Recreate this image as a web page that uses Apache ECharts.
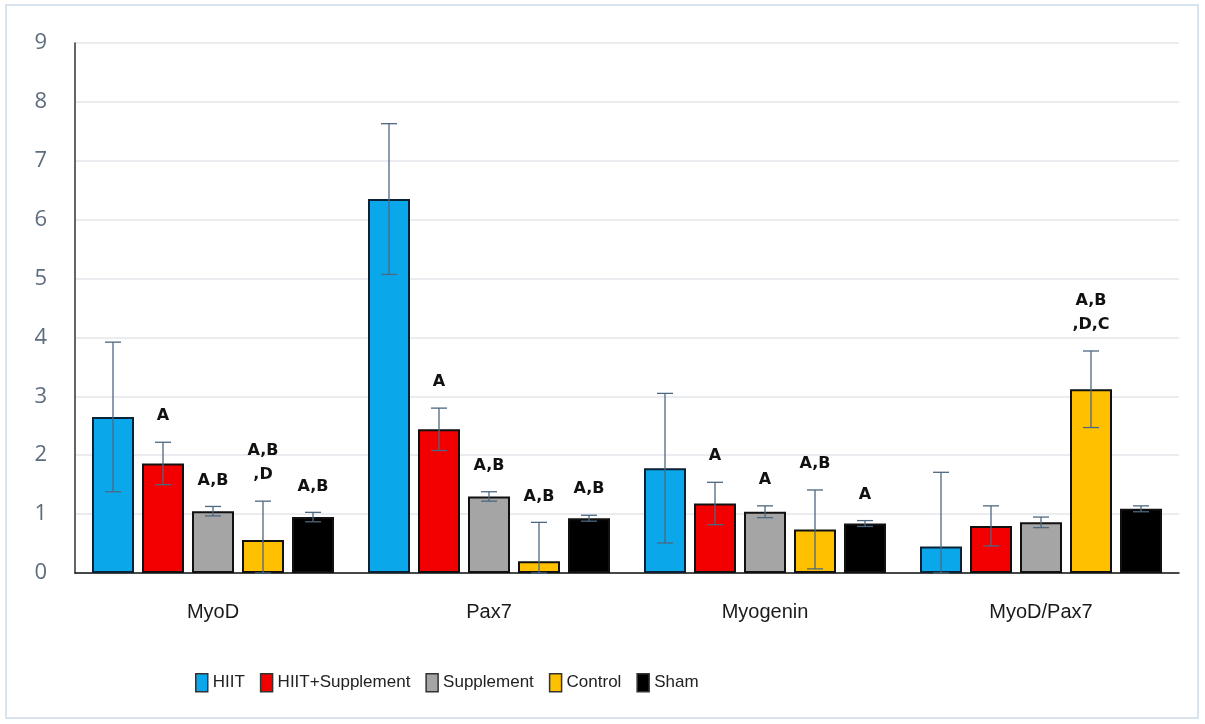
<!DOCTYPE html>
<html>
<head>
<meta charset="utf-8">
<script src="https://cdn.jsdelivr.net/npm/echarts@6/dist/echarts.min.js"></script>
<style>
  html, body { margin: 0; padding: 0; background: #fff; }
  #main { width: 1205px; height: 724px; }
</style>
</head>
<body>
<div id="main"></div>
<script>
// data
var categories = ['MyoD', 'Pax7', 'Myogenin', 'MyoD/Pax7'];
var groupNames = ['HIIT', 'HIIT+Supplement', 'Supplement', 'Control', 'Sham'];
var yTicks = [0, 1, 2, 3, 4, 5, 6, 7, 8, 9];

var hiit       = [2.65, 6.35, 1.78, 0.45];
var hiitSupp   = [1.86, 2.44, 1.18, 0.80];
var supplement = [1.05, 1.30, 1.04, 0.86];
var control    = [0.56, 0.20, 0.74, 3.12];
var sham       = [0.95, 0.93, 0.84, 1.09];

var hiitErr       = [1.27, 1.28, 1.27, 1.26];
var hiitSuppErr   = [0.36, 0.36, 0.36, 0.34];
var supplementErr = [0.08, 0.08, 0.10, 0.09];
var controlErr    = [0.66, 0.66, 0.67, 0.65];
var shamErr       = [0.08, 0.05, 0.05, 0.05];

var hiitLbl       = ['', '', '', ''];
var hiitSuppLbl   = ['A', 'A', 'A', ''];
var supplementLbl = ['A,B', 'A,B', 'A', ''];
var controlLbl    = ['A,B\n,D', 'A,B', 'A,B', 'A,B\n,D,C'];
var shamLbl       = ['A,B', 'A,B', 'A', ''];

var values = [hiit, hiitSupp, supplement, control, sham];
var errs = [hiitErr, hiitSuppErr, supplementErr, controlErr, shamErr];
var labels = [hiitLbl, hiitSuppLbl, supplementLbl, controlLbl, shamLbl];
var colors = ['#0aa8ea', '#f20000', '#a5a5a5', '#ffc000', '#000000'];
var borders = ['#0b2236', '#111', '#111', '#111', '#111'];

var BAR_W = 42, BAR_GAP = 8;

var chart = echarts.init(document.getElementById('main'));

var series = [];
groupNames.forEach(function (name, i) {
    series.push({
        name: name,
        type: 'bar',
        barWidth: BAR_W,
        barGap: (BAR_GAP / BAR_W * 100) + '%',
        itemStyle: { color: colors[i], borderColor: borders[i], borderWidth: 2 },
        data: values[i]
    });
});
// error bars + significance letters
groupNames.forEach(function (name, i) {
    var off = (i - 2) * (BAR_W + BAR_GAP);
    series.push({
        type: 'custom',
        z: 5,
        silent: true,
        renderItem: function (params, api) {
            var cat = api.value(0), v = api.value(1), e = api.value(2);
            var top = api.coord([cat, v + e]);
            var low = api.coord([cat, Math.max(v - e, 0)]);
            var x = top[0] + off;
            var st = { stroke: '#4d6780', lineWidth: 1.3 };
            var lbl = labels[i][params.dataIndex];
            return {
                type: 'group',
                children: [
                    { type: 'line', shape: { x1: x, y1: top[1], x2: x, y2: low[1] }, style: st },
                    { type: 'line', shape: { x1: x - 8, y1: top[1], x2: x + 8, y2: top[1] }, style: st },
                    { type: 'line', shape: { x1: x - 8, y1: low[1], x2: x + 8, y2: low[1] }, style: st },
                    { type: 'text', style: {
                        text: lbl, x: x, y: top[1] - 14, align: 'center', verticalAlign: 'bottom',
                        fill: '#111', font: 'bold 16px "DejaVu Sans", sans-serif', lineHeight: 24
                    } }
                ]
            };
        },
        data: categories.map(function (c, k) { return [k, values[i][k], errs[i][k]]; })
    });
});

var option = {
    backgroundColor: '#fff',
    animation: false,
    graphic: [{
        type: 'rect', shape: { x: 6, y: 5, width: 1192, height: 713 },
        style: { fill: 'none', stroke: '#d9e3ee', lineWidth: 2 }, silent: true, z: -1
    }],
    grid: { left: 75, right: 26, top: 43, bottom: 151 },
    legend: {
        data: groupNames,
        top: 668,
        left: 190,
        icon: 'rect',
        itemWidth: 12,
        itemHeight: 18,
        itemGap: 15,
        itemStyle: { borderColor: '#333', borderWidth: 1.5 },
        textStyle: { fontSize: 17, color: '#222', fontFamily: '"Liberation Sans", Arial, sans-serif' }
    },
    xAxis: {
        type: 'category',
        data: categories,
        axisTick: { show: false },
        axisLine: { lineStyle: { color: '#111', width: 1.5 } },
        axisLabel: { fontSize: 20, color: '#1a1a1a', margin: 29, fontFamily: '"Liberation Sans", Arial, sans-serif' }
    },
    yAxis: {
        type: 'value',
        min: yTicks[0],
        max: yTicks[yTicks.length - 1],
        interval: 1,
        axisLine: { show: true, lineStyle: { color: '#333', width: 1.5 } },
        axisTick: { show: false },
        axisLabel: { fontSize: 22, color: '#5d6d7e', margin: 28, fontFamily: '"Open Sans", "Noto Sans", sans-serif' },
        splitLine: { lineStyle: { color: '#e3e6ea', width: 1.5 } }
    },
    series: series
};
chart.setOption(option);
</script>
</body>
</html>
